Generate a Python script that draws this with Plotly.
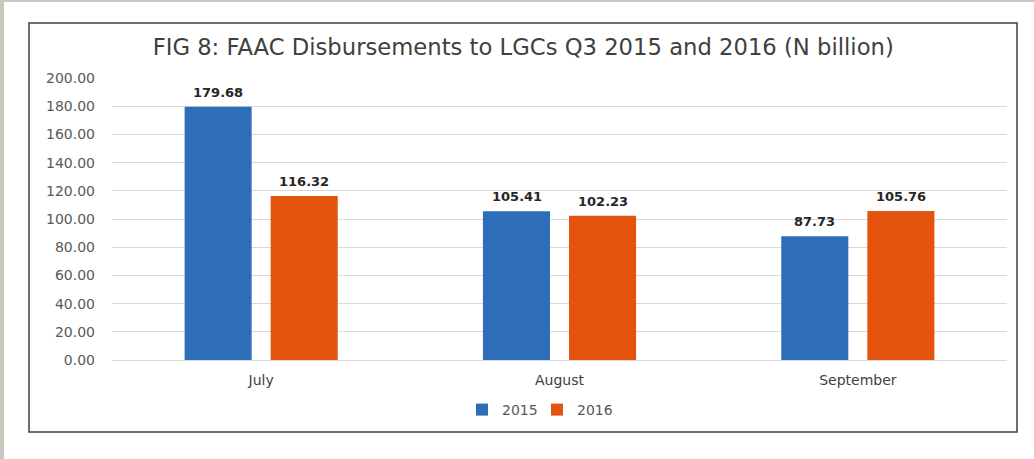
import plotly.graph_objects as go

W, H = 1034, 459
# plot area in pixels
L, R, T, B = 112, 1007, 78, 360

months = ['July', 'August', 'September']
vals_2015 = [179.68, 105.41, 87.73]
vals_2016 = [116.32, 102.23, 105.76]
tick_vals = [0, 20, 40, 60, 80, 100, 120, 140, 160, 180, 200]

blue = '#2E6EB9'
orange = '#E4540F'
grey_txt = '#595959'


def px(x):
    return (x - L) / (R - L)


def py(y):
    return (B - y) / (B - T)


fig = go.Figure()
fig.add_trace(go.Bar(x=months, y=vals_2015, name='2015', marker=dict(color=blue, line=dict(width=0))))
fig.add_trace(go.Bar(x=months, y=vals_2016, name='2016', marker=dict(color=orange, line=dict(width=0))))

# value labels above bars
for m, v in zip(months, vals_2015):
    fig.add_annotation(x=m, y=v, xshift=-43, yshift=5, yanchor='bottom', showarrow=False,
                       text='<b>%.2f</b>' % v, font=dict(family='DejaVu Sans', size=13, color='#262626'))
for m, v in zip(months, vals_2016):
    fig.add_annotation(x=m, y=v, xshift=43, yshift=5, yanchor='bottom', showarrow=False,
                       text='<b>%.2f</b>' % v, font=dict(family='DejaVu Sans', size=13, color='#262626'))

shapes = [
    # page edge, grey strips
    dict(type='rect', xref='paper', yref='paper', x0=px(0), x1=px(4), y0=py(H), y1=py(0),
         fillcolor='#C5C8BC', line=dict(width=0), layer='below'),
    dict(type='rect', xref='paper', yref='paper', x0=px(0), x1=px(W), y0=py(2), y1=py(0),
         fillcolor='#C5C8BC', line=dict(width=0), layer='below'),
    # chart box
    dict(type='rect', xref='paper', yref='paper', x0=px(29), x1=px(1017), y0=py(432), y1=py(23),
         line=dict(color='#404040', width=1.5), layer='below'),
]

fig.update_layout(
    width=W, height=H,
    margin=dict(l=L, r=W - R, t=T, b=H - B, autoexpand=False),
    paper_bgcolor='white', plot_bgcolor='white',
    barmode='group', bargap=0.423, bargroupgap=0.221,
    title=dict(text='FIG 8: FAAC Disbursements to LGCs Q3 2015 and 2016 (N billion)',
               x=0.506, xanchor='center', y=1 - 47 / H, yanchor='middle',
               font=dict(family='DejaVu Sans', size=22.7, color='#404040')),
    font=dict(family='DejaVu Sans', color=grey_txt),
    showlegend=True,
    legend=dict(orientation='h', x=px(537), xanchor='center', y=py(410), yanchor='middle',
                font=dict(family='DejaVu Sans', size=14, color=grey_txt),
                itemwidth=30, entrywidth=30, traceorder='normal'),
    shapes=shapes,
)
fig.update_yaxes(range=[0, 200], tickvals=tick_vals, tickformat='.2f', automargin=False,
                 showgrid=True, gridcolor='#D9D9D9', gridwidth=1,
                 zeroline=True, zerolinecolor='#D9D9D9', zerolinewidth=1,
                 showline=False, ticks='', ticklabelstandoff=16,
                 tickfont=dict(family='DejaVu Sans', size=14, color=grey_txt))
fig.update_xaxes(showline=False, ticks='', automargin=False, ticklabelstandoff=10,
                 tickfont=dict(family='DejaVu Sans', size=14, color='#404040'))

# drop the default page margin so the figure sits at the window origin
fig.write_html('out.html', config={'displayModeBar': False},
               post_script="document.body.style.margin='0';")
